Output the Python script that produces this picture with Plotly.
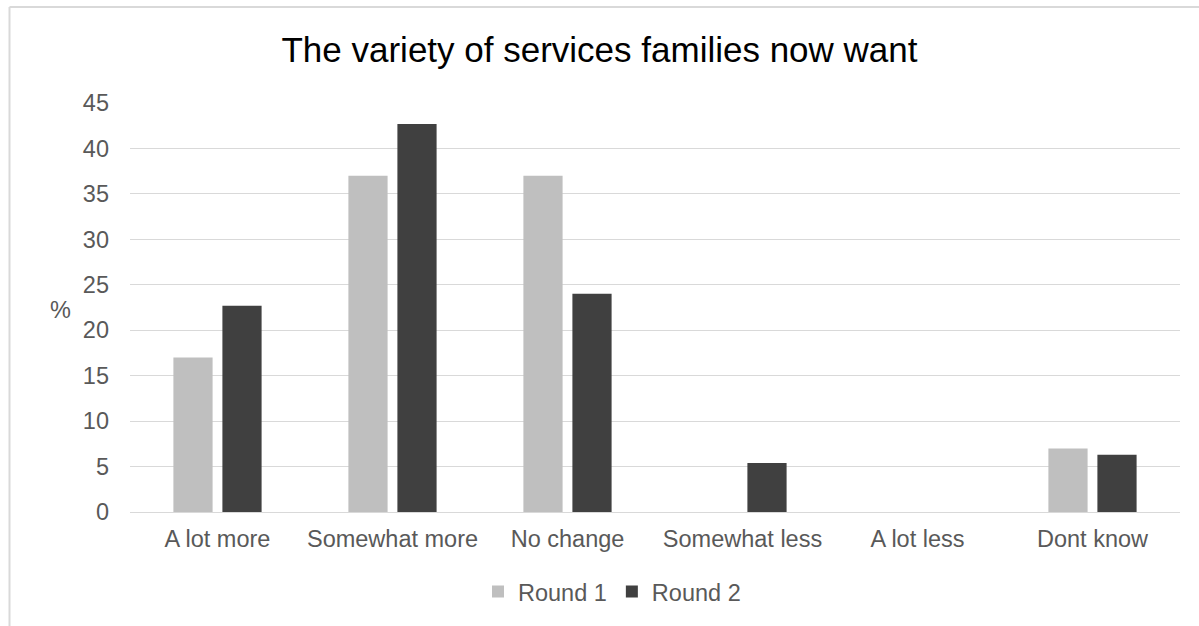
import plotly.graph_objects as go

# Survey responses (% of families)
categories = ["A lot more", "Somewhat more", "No change", "Somewhat less", "A lot less", "Dont know"]
round1 = [17.0, 37.0, 37.0, 0.0, 0.0, 7.0]
round2 = [22.7, 42.7, 24.0, 5.4, 0.0, 6.3]
y_ticks = list(range(0, 50, 5))

TEXT = "#595959"
GRID = "#d9d9d9"
FONT = "Liberation Sans, Arial, sans-serif"

W, H = 1199, 626
ML, MR, MT, MB = 130, 19, 103, 112
PW, PH = W - ML - MR, H - MT - MB


def px_x(x):
    return (x - ML) / PW


def px_y(y):
    return (H - MB - y) / PH


fig = go.Figure()
fig.add_trace(go.Bar(name="Round 1", x=categories, y=round1, marker=dict(color="#bfbfbf", line=dict(width=0))))
fig.add_trace(go.Bar(name="Round 2", x=categories, y=round2, marker=dict(color="#404040", line=dict(width=0))))

fig.update_layout(
    width=W, height=H,
    margin=dict(l=ML, r=MR, t=MT, b=MB),
    paper_bgcolor="white", plot_bgcolor="white",
    font=dict(family=FONT, size=24, color=TEXT),
    barmode="group", bargap=0.44, bargroupgap=0.2,
    title=dict(text="The variety of services families now want", x=0.5, xanchor="center",
               y=1 - 50 / H, yanchor="middle", font=dict(size=35, color="#000000", family=FONT)),
    xaxis=dict(showgrid=False, showline=True, linecolor=GRID, linewidth=1, ticks="",
               ticklabelstandoff=6, tickfont=dict(size=23.5, color=TEXT)),
    yaxis=dict(range=[0, 45], tickvals=y_ticks, showgrid=True, gridcolor=GRID, gridwidth=1,
               zeroline=False, showline=False, ticks="", ticklabelstandoff=20,
               tickfont=dict(size=23.5, color=TEXT)),
    legend=dict(orientation="h", x=px_x(612), xanchor="center", y=px_y(594), yanchor="middle",
                itemwidth=30, font=dict(size=23.5, color=TEXT), traceorder="normal"),
    showlegend=True,
)

# Axis caption
fig.add_annotation(text="%", xref="paper", yref="paper", x=px_x(60), y=px_y(311),
                   showarrow=False, font=dict(size=23.5, color=TEXT), xanchor="center", yanchor="middle")

# Chart frame (left and top edges)
fig.add_shape(type="line", xref="paper", yref="paper", x0=px_x(9.5), x1=px_x(9.5),
              y0=px_y(6.5), y1=px_y(640), line=dict(color=GRID, width=2))
fig.add_shape(type="line", xref="paper", yref="paper", x0=px_x(9.5), x1=px_x(1210),
              y0=px_y(6.5), y1=px_y(6.5), line=dict(color=GRID, width=2))

fig.write_html("out.html")
